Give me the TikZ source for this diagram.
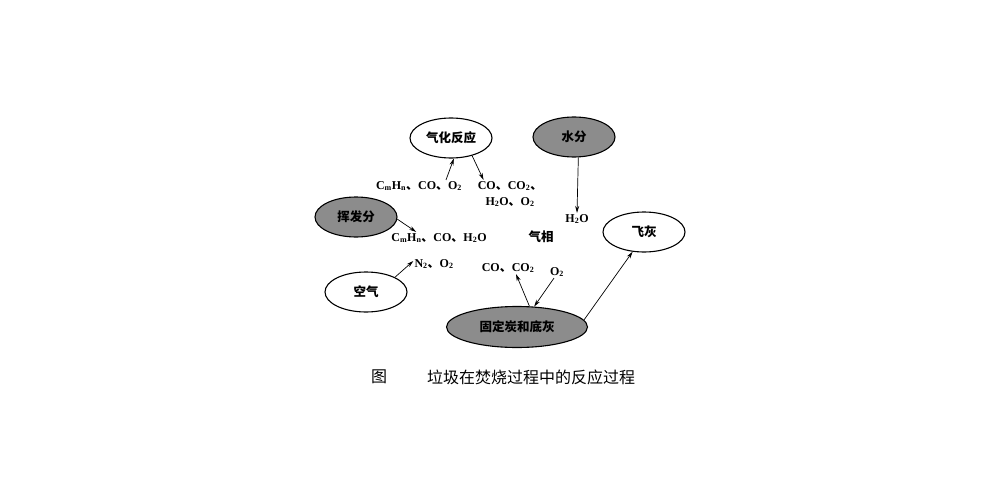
\documentclass[tikz,border=0pt]{standalone}
\usepackage{fontspec}
\setmainfont{Liberation Serif}
\newfontfamily\cjk{Noto Sans CJK SC}
\usetikzlibrary{positioning, shapes.geometric, arrows.meta}
\newcommand{\dunhao}{{\cjk 、}}
\newcommand{\sub}[1]{\textsubscript{#1}}

\begin{document}
\begin{tikzpicture}[
    x=1pt, y=-1pt,
    whitebox/.style={ellipse, draw=black, line width=1.1pt, fill=white, minimum width=82pt, minimum height=40pt, inner sep=0pt, font=\cjk\bfseries\fontsize{12.5}{14}\selectfont},
    graybox/.style={whitebox, fill=black!45},
    formula/.style={inner sep=1pt, align=center, font=\bfseries\fontsize{12}{16}\selectfont},
    arrow/.style={-{Stealth[length=7pt, width=4pt]}, line width=0.7pt, black}
]
\useasboundingbox (0,0) rectangle (1000,500);

% Sources
\node[whitebox] (qihua) at (451,138) {气化反应};
\node[graybox] (shuifen) at (574,137) {水分};
\node[graybox] (huifa) at (356,217) {挥发分};
\node[whitebox] (kongqi) at (366,292) {空气};
\node[graybox, minimum width=141pt, minimum height=41pt] (gutan) at (517,327) {固定炭和底灰};
\node[whitebox] (feihui) at (644,232) {飞灰};

% Gas phase species
\node[formula] (fml_a) at (419,186) {C\sub{m}H\sub{n}\dunhao CO\dunhao O\sub{2}};
\node[formula] (fml_b) at (510,194) {CO\dunhao CO\sub{2}\dunhao\\H\sub{2}O\dunhao O\sub{2}};
\node[formula] (fml_c) at (439,238) {C\sub{m}H\sub{n}\dunhao CO\dunhao H\sub{2}O};
\node[formula, font=\cjk\bfseries\fontsize{12.5}{14}\selectfont] (gas) at (541,237) {气相};
\node[formula] (water_h2o) at (577,219) {H\sub{2}O};
\node[formula] (fml_d) at (434,264) {N\sub{2}\dunhao O\sub{2}};
\node[formula] (fml_e) at (508,268) {CO\dunhao CO\sub{2}};
\node[formula] (o2_b) at (557,272) {O\sub{2}};

% Reaction arrows
\draw[arrow] ([xshift=27pt]fml_a.north) -- (qihua.-82);
\draw[arrow] (qihua.-40) -- ([xshift=7pt]fml_b.north west);
\draw[arrow] (huifa.-3) -- ([xshift=26pt]fml_c.north west);
\draw[arrow] (kongqi.27) -- ([yshift=3pt]fml_d.west);
\draw[arrow] (shuifen.-78) -- (water_h2o.north);
\draw[arrow] (gutan.59) -- ([xshift=8pt]fml_e.south);
\draw[arrow] ([xshift=-3pt]o2_b.south) -- (gutan.50);
\draw[arrow] (gutan.6) -- (feihui.-120);

% Caption
\node[font=\cjk\fontsize{16}{18}\selectfont] (fig_label) at (379,377) {图};
\node[font=\cjk\fontsize{16}{18}\selectfont] (fig_title) at (531,377) {垃圾在焚烧过程中的反应过程};

\end{tikzpicture}
\end{document}
